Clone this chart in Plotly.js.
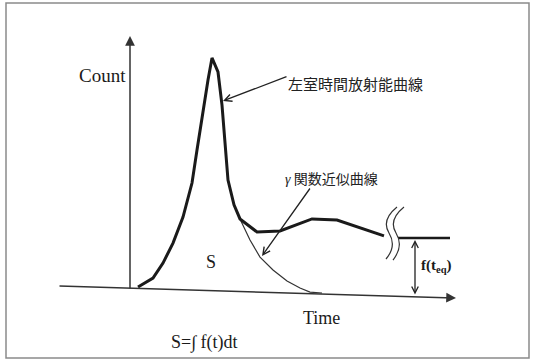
<!DOCTYPE html>
<html>
<head>
<meta charset="utf-8">
<script src="https://cdn.plot.ly/plotly-3.0.1.min.js"></script>
<style>html,body{margin:0;padding:0;background:#fff;}#chart{width:535px;height:363px;}</style>
</head>
<body>
<div id="chart"></div>
<script>
// Left-ventricle time-activity curve (time in arbitrary units, count in arbitrary units)
var curveTime  = [2, 5.75, 8.25, 10.75, 13.25, 15.5, 16.75, 18.25, 19.5, 20.5, 22, 23, 23.75, 24.5, 26, 27.5, 31.75, 37.5, 45.5, 51.75, 63.5];
var curveCount = [1.3, 5.2, 11.7, 20.4, 31.7, 46.5, 60.9, 78.3, 91.3, 100.9, 94.8, 80.4, 65.2, 47.8, 37.0, 30.9, 25.2, 25.7, 30.9, 30.4, 23.5];
// Equilibrium plateau after the break
var eqTime  = [67, 80];
var eqCount = [22.6, 22.6];
// Gamma-function fitted tail
var gammaTime  = [27.5, 30, 32.5, 35.75, 39.25, 42.5, 45, 48];
var gammaCount = [30.9, 21.7, 14.3, 8.7, 3.9, 0.9, -0.9, -1.3];

// helpers for decoration positions (pixel -> data)
function tx(px){ return (px - 130) / 4; }
function cy(py){ return (290 - py) / 2.3; }
function P(px, py){ return tx(px).toFixed(2) + ',' + cy(py).toFixed(2); }

var ink = '#1a1a1a';
var serif = 'Liberation Serif, Times New Roman, serif';
var cjk = 'Noto Sans CJK JP, sans-serif';

var traces = [
  {x: gammaTime, y: gammaCount, mode: 'lines', line: {color: '#333', width: 1.2}, hoverinfo: 'skip'},
  {x: curveTime, y: curveCount, mode: 'lines', line: {color: ink, width: 3}, hoverinfo: 'skip'},
  {x: eqTime, y: eqCount, mode: 'lines', line: {color: ink, width: 2.5}, hoverinfo: 'skip'}
];

var annotations = [
  // Y axis with arrow
  {x: tx(130), y: cy(36), ax: tx(130), ay: cy(290), xref: 'x', yref: 'y', axref: 'x', ayref: 'y',
   showarrow: true, arrowhead: 2, arrowsize: 1.3, arrowwidth: 1.5, arrowcolor: '#333', text: ''},
  // Time axis with arrow (slightly tilted as in the scan)
  {x: tx(456), y: cy(298), ax: tx(58), ay: cy(286), xref: 'x', yref: 'y', axref: 'x', ayref: 'y',
   showarrow: true, arrowhead: 2, arrowsize: 1.3, arrowwidth: 1.5, arrowcolor: '#333', text: ''},
  // double arrow f(t_eq)
  {x: tx(415), y: cy(240), ax: tx(415), ay: cy(296), xref: 'x', yref: 'y', axref: 'x', ayref: 'y',
   showarrow: true, arrowhead: 5, startarrowhead: 5, arrowside: 'end+start', arrowsize: 1, arrowwidth: 1.3, arrowcolor: '#222', text: ''},
  // pointer to measured curve
  {x: tx(223), y: cy(101), ax: tx(288), ay: cy(76), xref: 'x', yref: 'y', axref: 'x', ayref: 'y',
   showarrow: true, arrowhead: 5, arrowsize: 1.1, arrowwidth: 1.3, arrowcolor: '#222', text: ''},
  // pointer to gamma curve
  {x: tx(262), y: cy(256), ax: tx(311), ay: cy(187), xref: 'x', yref: 'y', axref: 'x', ayref: 'y',
   showarrow: true, arrowhead: 5, arrowsize: 1.1, arrowwidth: 1.3, arrowcolor: '#222', text: ''},
  // texts
  {x: tx(128), y: cy(75), xref: 'x', yref: 'y', xanchor: 'right', yanchor: 'middle', showarrow: false,
   text: 'Count', font: {family: serif, size: 19, color: ink}},
  {x: tx(286), y: cy(83), xref: 'x', yref: 'y', xanchor: 'left', yanchor: 'middle', showarrow: false,
   text: '左室時間放射能曲線', font: {family: cjk, size: 15, color: '#222'}},
  {x: tx(283), y: cy(178), xref: 'x', yref: 'y', xanchor: 'left', yanchor: 'middle', showarrow: false,
   text: '<i style="font-family:Liberation Serif">γ</i> 関数近似曲線', font: {family: cjk, size: 14, color: '#222'}},
  {x: tx(211), y: cy(262), xref: 'x', yref: 'y', xanchor: 'center', yanchor: 'middle', showarrow: false,
   text: 'S', font: {family: serif, size: 18, color: ink}},
  {x: tx(321), y: cy(318), xref: 'x', yref: 'y', xanchor: 'center', yanchor: 'middle', showarrow: false,
   text: 'Time', font: {family: serif, size: 18, color: ink}},
  {x: tx(169), y: cy(342), xref: 'x', yref: 'y', xanchor: 'left', yanchor: 'middle', showarrow: false,
   text: 'S=∫ f(t)dt', font: {family: serif, size: 18, color: ink}},
  {x: tx(419), y: cy(266), xref: 'x', yref: 'y', xanchor: 'left', yanchor: 'middle', showarrow: false,
   text: '<b>f(t<sub>eq</sub>)</b>', font: {family: serif, size: 15, color: ink}}
];

var shapes = [
  {type: 'rect', xref: 'paper', yref: 'paper', x0: 6/535, x1: 529/535, y0: 1 - 358/363, y1: 1 - 3/363,
   line: {color: '#8a8a8a', width: 1.5}, fillcolor: 'rgba(0,0,0,0)', layer: 'below'},
  {type: 'path', xref: 'x', yref: 'y', line: {color: '#333', width: 1.2},
   path: 'M' + P(397,207) + ' Q' + P(381,220) + ' ' + P(389,233) + ' Q' + P(397,246) + ' ' + P(386,259)},
  {type: 'path', xref: 'x', yref: 'y', line: {color: '#333', width: 1.2},
   path: 'M' + P(404,207) + ' Q' + P(388,220) + ' ' + P(396,233) + ' Q' + P(404,246) + ' ' + P(393,260)}
];

var layout = {
  width: 535, height: 363,
  margin: {l: 0, r: 0, t: 0, b: 0},
  paper_bgcolor: '#ffffff', plot_bgcolor: '#ffffff',
  showlegend: false,
  xaxis: {range: [tx(0), tx(535)], visible: false, fixedrange: true},
  yaxis: {range: [cy(363), cy(0)], visible: false, fixedrange: true},
  annotations: annotations,
  shapes: shapes
};

Plotly.newPlot('chart', traces, layout, {staticPlot: true, displayModeBar: false});
</script>
</body>
</html>
